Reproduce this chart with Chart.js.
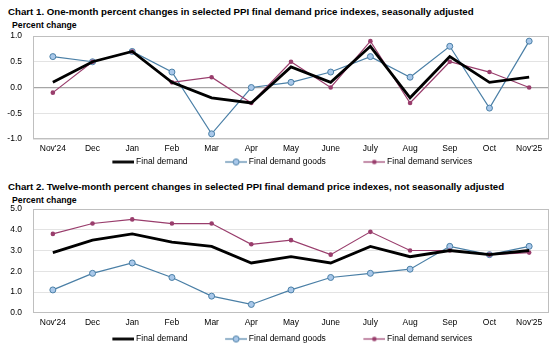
<!DOCTYPE html>
<html>
<head>
<meta charset="utf-8">
<script src="https://cdn.jsdelivr.net/npm/chart.js@4/dist/chart.umd.min.js"></script>
<style>
  html, body { margin: 0; padding: 0; background: #fff; }
  body { width: 560px; height: 356px; position: relative; overflow: hidden; font-family: "Liberation Sans", Arial, sans-serif; }
  .title { position: absolute; left: 8px; font-weight: bold; font-size: 9.7px; color: #000; white-space: nowrap; }
  .sub { position: absolute; left: 12px; font-weight: bold; font-size: 8.7px; color: #000; white-space: nowrap; }
  canvas { position: absolute; left: 0; }
</style>
</head>
<body>
<div class="title" style="top:6px">Chart 1. One-month percent changes in selected PPI final demand price indexes, seasonally adjusted</div>
<div class="sub" style="top:19.5px">Percent change</div>
<div class="title" style="top:181px">Chart 2. Twelve-month percent changes in selected PPI final demand price indexes, not seasonally adjusted</div>
<div class="sub" style="top:195px">Percent change</div>
<div style="position:absolute;left:0;top:0;width:560px;height:178px"><canvas id="c1"></canvas></div>
<div style="position:absolute;left:0;top:178px;width:560px;height:178px"><canvas id="c2"></canvas></div>
<script>
const months = ["Nov'24","Dec","Jan","Feb","Mar","Apr","May","June","July","Aug","Sep","Oct","Nov'25"];
const seriesNames = ["Final demand","Final demand goods","Final demand services"];

// Chart 1: one-month percent changes, seasonally adjusted
const oneMonthFinalDemand = [0.1, 0.5, 0.7, 0.1, -0.2, -0.3, 0.4, 0.1, 0.8, -0.2, 0.6, 0.1, 0.2];
const oneMonthGoods       = [0.6, 0.5, 0.7, 0.3, -0.9, 0.0, 0.1, 0.3, 0.6, 0.2, 0.8, -0.4, 0.9];
const oneMonthServices    = [-0.1, 0.5, 0.7, 0.1, 0.2, -0.3, 0.5, 0.0, 0.9, -0.3, 0.5, 0.3, 0.0];
const chart1Ticks = [-1.0, -0.5, 0.0, 0.5, 1.0];

// Chart 2: twelve-month percent changes, not seasonally adjusted
const twelveMonthFinalDemand = [2.9, 3.5, 3.8, 3.4, 3.2, 2.4, 2.7, 2.4, 3.2, 2.7, 3.0, 2.8, 3.0];
const twelveMonthGoods       = [1.1, 1.9, 2.4, 1.7, 0.8, 0.4, 1.1, 1.7, 1.9, 2.1, 3.2, 2.8, 3.2];
const twelveMonthServices    = [3.8, 4.3, 4.5, 4.3, 4.3, 3.3, 3.5, 2.8, 3.9, 3.0, 3.0, 2.8, 2.9];
const chart2Ticks = [0, 1, 2, 3, 4, 5];

const COL_FD = '#000000';
const COL_GOODS = '#4a7fa6';
const COL_GOODS_FILL = '#a9c8ea';
const COL_SERV = '#993d6c';
const FONT = 'Liberation Sans';
const FS = 8.5;

// legend icon: empty lead-in space, then a 22px line sample ending right next to the text
const BOX_W = 55, ICON_CANVAS_W = 60, LINE_X0 = 38, LINE_X1 = 60;
function legendIcon(kind) {
  const c = document.createElement('canvas');
  c.width = ICON_CANVAS_W; c.height = 9;
  const g = c.getContext('2d');
  const xm = (LINE_X0 + LINE_X1) / 2;
  g.beginPath(); g.moveTo(LINE_X0, 4.5); g.lineTo(LINE_X1, 4.5);
  if (kind === 0) { g.strokeStyle = COL_FD; g.lineWidth = 2.8; g.stroke(); }
  if (kind === 1) {
    g.strokeStyle = COL_GOODS; g.lineWidth = 1.2; g.stroke();
    g.beginPath(); g.arc(xm, 4.5, 3, 0, Math.PI * 2);
    g.fillStyle = COL_GOODS_FILL; g.fill(); g.lineWidth = 1; g.stroke();
  }
  if (kind === 2) {
    g.strokeStyle = COL_SERV; g.lineWidth = 1.2; g.stroke();
    g.beginPath(); g.arc(xm, 4.5, 2.3, 0, Math.PI * 2);
    g.fillStyle = COL_SERV; g.fill();
  }
  return c;
}
const icons = [legendIcon(0), legendIcon(1), legendIcon(2)];

const boxPlugin = {
  id: 'plotBox',
  afterDraw(chart) {
    const a = chart.chartArea, ctx = chart.ctx;
    ctx.save();
    ctx.strokeStyle = '#bfbfbf'; ctx.lineWidth = 1;
    ctx.strokeRect(Math.round(a.left) + 0.5, Math.round(a.top) + 0.5, Math.round(a.right - a.left) - 1, Math.round(a.bottom - a.top) - 1);
    ctx.restore();
  }
};

function makeChart(id, fd, goods, serv, ticks, opts) {
  const datasets = [
    { label: seriesNames[0], data: fd, borderColor: COL_FD, backgroundColor: COL_FD, borderWidth: 2.8, pointRadius: 0, tension: 0, order: 0 },
    { label: seriesNames[1], data: goods, borderColor: COL_GOODS, backgroundColor: COL_GOODS_FILL, borderWidth: 1.2, pointRadius: 3, pointBorderWidth: 1, pointBorderColor: COL_GOODS, pointBackgroundColor: COL_GOODS_FILL, tension: 0, order: 2 },
    { label: seriesNames[2], data: serv, borderColor: COL_SERV, backgroundColor: COL_SERV, borderWidth: 1.2, pointRadius: 2.3, pointBorderWidth: 0, pointBackgroundColor: COL_SERV, tension: 0, order: 1 }
  ];
  return new Chart(document.getElementById(id), {
    type: 'line',
    data: { labels: months, datasets },
    plugins: [boxPlugin],
    options: {
      responsive: true,
      maintainAspectRatio: false,
      animation: false,
      layout: { padding: { top: opts.top, right: 11, left: 0, bottom: opts.bottom } },
      plugins: {
        title: { display: false },
        tooltip: { enabled: false },
        legend: {
          position: 'bottom',
          labels: {
            font: { family: FONT, size: FS },
            color: '#000',
            usePointStyle: true,
            pointStyleWidth: BOX_W,
            boxHeight: 9,
            padding: 2,
            generateLabels(chart) {
              return chart.data.datasets.map((d, i) => ({
                text: d.label, pointStyle: icons[i], datasetIndex: i,
                fillStyle: d.borderColor, strokeStyle: d.borderColor, lineWidth: 0, hidden: false, fontColor: '#000'
              }));
            }
          }
        }
      },
      scales: {
        x: {
          offset: true,
          grid: { display: false, drawTicks: false },
          border: { display: false },
          ticks: { font: { family: FONT, size: FS }, color: '#000', padding: opts.xpad, maxRotation: 0, autoSkip: false },
          afterFit(s) { s.height = opts.xh; }
        },
        y: {
          min: ticks[0], max: ticks[ticks.length - 1],
          afterBuildTicks(s) { s.ticks = ticks.map(v => ({ value: v })); },
          grid: {
            drawTicks: false,
            color: (c) => (c.tick && c.tick.value === 0 && opts.zeroDark) ? '#a6a6a6' : '#e3e3e3',
            lineWidth: (c) => (c.tick && c.tick.value === 0 && opts.zeroDark) ? 1.3 : 1
          },
          border: { display: false },
          ticks: { font: { family: FONT, size: FS }, color: '#000', padding: 11, callback: (v) => Number(v).toFixed(1) },
          afterFit(s) { s.width = 33; }
        }
      }
    }
  });
}

makeChart('c1', oneMonthFinalDemand, oneMonthGoods, oneMonthServices, chart1Ticks, { top: 36, bottom: 1.75, xh: 16.75, xpad: 5, zeroDark: true });
makeChart('c2', twelveMonthFinalDemand, twelveMonthGoods, twelveMonthServices, chart2Ticks, { top: 31, bottom: 2.75, xh: 20, xpad: 5, zeroDark: false });
</script>
</body>
</html>
